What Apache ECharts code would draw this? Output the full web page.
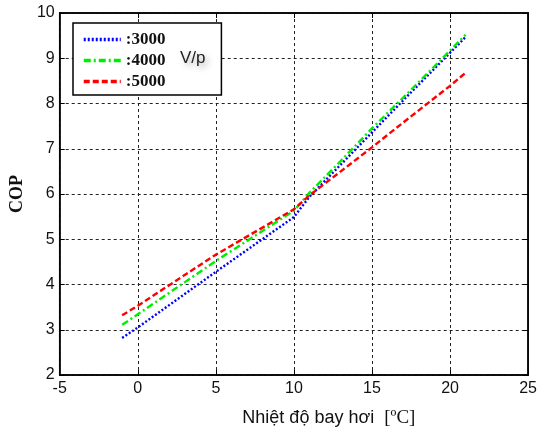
<!DOCTYPE html>
<html>
<head>
<meta charset="utf-8">
<script src="https://cdn.jsdelivr.net/npm/echarts@6/dist/echarts.min.js"></script>
<style>
  html, body { margin: 0; padding: 0; background: #fff; }
  #chart { width: 540px; height: 433px; }
</style>
</head>
<body>
<div id="chart"></div>
<script>
// nhiệt độ bay hơi [ºC]
const xTemp = [-1, 0, 5, 10, 11, 13, 15, 17, 19, 20, 21];
// COP theo tốc độ quay
const cop3000 = [2.82, 3.05, 4.28, 5.49, 5.94, 6.65, 7.36, 8.07, 8.77, 9.12, 9.47];
const cop4000 = [3.11, 3.34, 4.52, 5.63, 6.03, 6.73, 7.45, 8.13, 8.82, 9.17, 9.52];
const cop5000 = [3.32, 3.53, 4.66, 5.66, 5.97, 6.50, 7.03, 7.58, 8.12, 8.39, 8.68];
const seriesNames = [":3000", ":4000", ":5000"];

const pairs = (ys) => xTemp.map((x, i) => [x, ys[i]]);

const chart = echarts.init(document.getElementById("chart"));

const tickFont = { color: "#111", fontSize: 16, fontFamily: "Liberation Sans, Arial" };
const frameLine = { show: true, onZero: false, lineStyle: { color: "#000", width: 1.5 } };
const innerTick = { show: true, inside: true, length: 5, lineStyle: { color: "#000" } };
const gridDash = { show: true, lineStyle: { color: "#222", type: [3, 3], width: 1 } };

const options = {
  backgroundColor: "#fff",
  animation: false,
  grid: {
    left: 58,
    right: 10,
    top: 13,
    bottom: 49,
    show: true,
    borderColor: "#000",
    borderWidth: 1.5,
  },
  legend: {
    left: 73,
    top: 23,
    orient: "vertical",
    data: seriesNames,
    itemWidth: 37,
    itemHeight: 14,
    itemGap: 4,
    padding: [8, 56, 5, 9],
    borderColor: "#000",
    borderWidth: 1.5,
    backgroundColor: "#fff",
    itemStyle: { color: "transparent", borderWidth: 0 },
    lineStyle: { width: 3.5 },
    textStyle: {
      fontFamily: "Liberation Serif, Times New Roman",
      fontWeight: "bold",
      fontSize: 17,
      color: "#111",
    },
  },
  xAxis: [
    {
      type: "value",
      min: -5,
      max: 25,
      interval: 5,
      name: "Nhiệt độ bay hơi  {u|[ºC]}",
      nameLocation: "middle",
      nameGap: 34,
      nameTextStyle: {
        fontFamily: "Liberation Sans, Arial",
        fontSize: 18,
        color: "#111",
        padding: [0, 0, 0, 70],
        rich: {
          u: { fontFamily: "Liberation Serif, Times New Roman", fontSize: 19, color: "#111" },
        },
      },
      axisLine: frameLine,
      axisTick: innerTick,
      axisLabel: { ...tickFont, margin: 6 },
      splitLine: gridDash,
    },
    {
      type: "value",
      position: "top",
      min: -5,
      max: 25,
      interval: 5,
      axisLine: frameLine,
      axisTick: innerTick,
      axisLabel: { show: false },
      splitLine: { show: false },
    },
  ],
  yAxis: [
    {
      type: "value",
      min: 2,
      max: 10,
      interval: 1,
      name: "COP",
      nameLocation: "middle",
      nameGap: 23,
      nameTextStyle: {
        fontFamily: "Liberation Serif, Times New Roman",
        fontWeight: "bold",
        fontSize: 18,
        color: "#111",
      },
      axisLine: frameLine,
      axisTick: innerTick,
      axisLabel: { ...tickFont, margin: 5 },
      splitLine: gridDash,
    },
    {
      type: "value",
      position: "right",
      min: 2,
      max: 10,
      interval: 1,
      axisLine: frameLine,
      axisTick: innerTick,
      axisLabel: { show: false },
      splitLine: { show: false },
    },
  ],
  series: [
    {
      name: seriesNames[0],
      type: "line",
      data: pairs(cop3000),
      showSymbol: false,
      symbol: "none",
      lineStyle: { color: "#0000ff", width: 2.4, type: [2, 2] },
      itemStyle: { color: "#0000ff" },
      z: 3,
    },
    {
      name: seriesNames[1],
      type: "line",
      data: pairs(cop4000),
      showSymbol: false,
      symbol: "none",
      lineStyle: { color: "#00ee00", width: 2.4, type: [7, 3, 2, 3] },
      itemStyle: { color: "#00ee00" },
      z: 4,
    },
    {
      name: seriesNames[2],
      type: "line",
      data: pairs(cop5000),
      showSymbol: false,
      symbol: "none",
      lineStyle: { color: "#ff0000", width: 2.4, type: [6, 3] },
      itemStyle: { color: "#ff0000" },
      z: 5,
    },
  ],
  graphic: [
    {
      type: "text",
      left: 180,
      top: 50,
      z: 10,
      style: {
        text: "V/p",
        fontFamily: "Liberation Sans, Arial",
        fontSize: 17,
        fill: "#222",
        textShadowColor: "rgba(0,0,0,0.35)",
        textShadowBlur: 6,
        textShadowOffsetX: 3,
        textShadowOffsetY: 3,
      },
    },
  ],
};

chart.setOption(options);

window.addEventListener("resize", () => {
  chart.resize();
});
</script>
</body>
</html>
